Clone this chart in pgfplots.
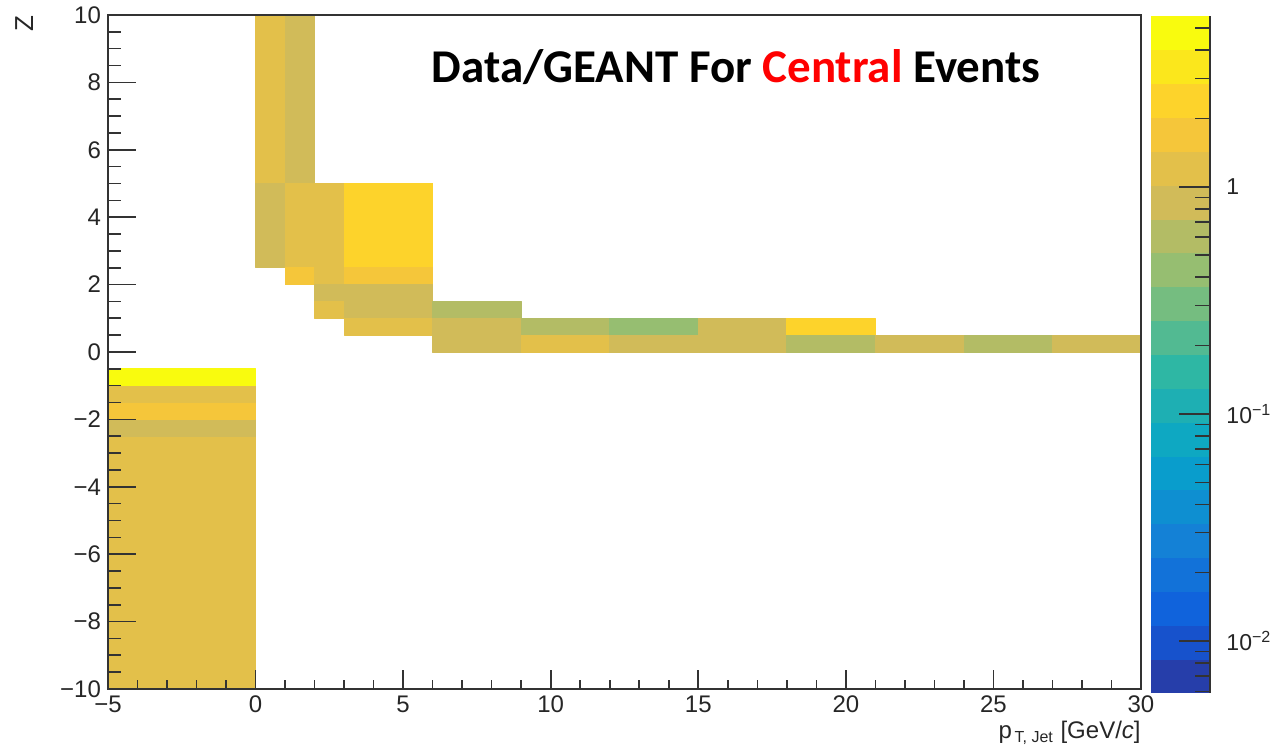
\documentclass[border=0pt]{standalone}
\usepackage{pgfplots}
\pgfplotsset{compat=1.18}
\usepackage{pgfplotstable}
\usepgfplotslibrary{patchplots}
\usepackage{fontspec}
\setmainfont{Liberation Sans}
\newfontfamily\titlefont{Carlito}
\definecolor{framec}{gray}{0.2}

\pgfplotstableread{
x0 x1 y0 y1 z
-5 0 -10 -2.5 1.20
-5 0 -2.5 -2 0.86
-5 0 -2 -1.5 1.70
-5 0 -1.5 -1 1.20
-5 0 -1 -0.5 4.80
0 1 5 10 1.20
0 1 2.5 5 0.86
1 2 5 10 0.87
1 2 2.5 5 1.22
1 2 2 2.5 1.70
2 3 2.5 5 1.20
2 3 2 2.5 1.16
2 3 1.5 2 0.88
2 3 1 1.5 1.22
3 6 2.5 5 2.40
3 6 2 2.5 1.65
3 6 1.5 2 0.90
3 6 1 1.5 0.84
3 6 0.5 1 1.18
6 9 1 1.5 0.61
6 9 0.5 1 0.86
6 9 0 0.5 0.89
9 12 0.5 1 0.62
9 12 0 0.5 1.19
12 15 0.5 1 0.43
12 15 0 0.5 0.87
15 18 0.5 1 0.85
15 18 0 0.5 0.90
18 21 0.5 1 2.30
18 21 0 0.5 0.60
21 24 0 0.5 0.88
24 27 0 0.5 0.63
27 30 0 0.5 0.86
}\bins

\begin{document}
\begin{tikzpicture}
\useasboundingbox (0,0) rectangle (635.5pt,377pt);
\begin{axis}[
  at={(54pt,32.5pt)}, anchor=south west,
  scale only axis, width=516.5pt, height=337pt,
  xmin=-5, xmax=30, ymin=-10, ymax=10,
  xtick={-5,0,...,30}, ytick={-10,-8,...,10},
  xticklabels={−5,0,5,10,15,20,25,30},
  yticklabels={−10,−8,−6,−4,−2,0,2,4,6,8,10},
  minor x tick num=4, minor y tick num=3,
  xtick pos=bottom, ytick pos=left,
  tick align=inside,
  major tick length=14pt, minor tick length=6.5pt,
  x tick style={/pgfplots/major tick length=9.5pt,/pgfplots/minor tick length=4.5pt},
  tick style={line width=0.8pt, color=framec},
  axis line style={line width=1pt, color=framec},
  axis on top,
  tick label style={font=\fontsize{12}{14}\selectfont, color=black!85},
  xlabel={p\textsubscript{\,T, Jet} [GeV/\textit{c}]},
  xlabel style={at={(axis description cs:1,0)}, anchor=north east, inner sep=0pt, yshift=-16pt, font=\fontsize{12}{14}\selectfont, color=black!85},
  ylabel={Z},
  ylabel style={at={(axis description cs:-0.083,1)}, anchor=east, inner sep=0pt, yshift=-1pt, font=\fontsize{13}{14}\selectfont, color=black!85},
  colormap={rootbird}{
    rgb=(0.149,0.244,0.665) rgb=(0.089,0.321,0.801) rgb=(0.063,0.389,0.862)
    rgb=(0.071,0.446,0.851) rgb=(0.078,0.504,0.839) rgb=(0.056,0.559,0.820)
    rgb=(0.034,0.614,0.801) rgb=(0.055,0.657,0.762) rgb=(0.117,0.687,0.702)
    rgb=(0.180,0.718,0.643) rgb=(0.320,0.730,0.572) rgb=(0.460,0.743,0.502)
    rgb=(0.588,0.746,0.443) rgb=(0.703,0.739,0.396) rgb=(0.819,0.733,0.350)
    rgb=(0.889,0.754,0.289) rgb=(0.960,0.776,0.227) rgb=(0.992,0.826,0.168)
    rgb=(0.984,0.904,0.111) rgb=(0.976,0.983,0.054)},
  colormap access=piecewise constant,
  point meta min=-2.229, point meta max=0.753,
  colorbar,
  colorbar style={
    scale only axis, width=29.5pt, height=338.5pt,
    at={(parent axis.north east)}, anchor=north west, xshift=-3.5pt, yshift=-0.5pt,
    axis x line=none, axis y line*=right,
    ytick={-2,-1,0},
    yticklabels={10\textsuperscript{−2},10\textsuperscript{−1},1},
    minor ytick={-2.2218,-2.1549,-2.0969,-2.0458,-1.6990,-1.5229,-1.3979,-1.3010,-1.2218,-1.1549,-1.0969,-1.0458,-0.6990,-0.5229,-0.3979,-0.3010,-0.2218,-0.1549,-0.0969,-0.0458,0.3010,0.4771,0.6021,0.6990},
    ytick pos=right, yticklabel pos=right,
    tick align=inside,
    major tick length=15.5pt, minor tick length=7.5pt,
    tick style={line width=0.8pt, color=framec},
    y axis line style={line width=0.8pt, color=framec},
    yticklabel style={font=\fontsize{11.5}{14}\selectfont, inner sep=0pt, xshift=8pt, color=black!85},
  },
]
\pgfplotstablegetrowsof{\bins}
\pgfmathtruncatemacro{\nbins}{\pgfplotsretval-1}
\pgfplotsforeachungrouped \i in {0,...,\nbins}{%
  \pgfplotstablegetelem{\i}{x0}\of\bins \let\xa\pgfplotsretval
  \pgfplotstablegetelem{\i}{x1}\of\bins \let\xb\pgfplotsretval
  \pgfplotstablegetelem{\i}{y0}\of\bins \let\ya\pgfplotsretval
  \pgfplotstablegetelem{\i}{y1}\of\bins \let\yb\pgfplotsretval
  \pgfplotstablegetelem{\i}{z}\of\bins \let\zz\pgfplotsretval
  \edef\temp{\noexpand\addplot[patch, patch type=rectangle, shader=flat, forget plot, point meta={ln(\zz)/ln(10)}] coordinates {(\xa,\ya) (\xb,\ya) (\xb,\yb) (\xa,\yb)};}%
  \temp
}
\node[font=\titlefont\bfseries\fontsize{23.5}{26}\selectfont, inner sep=0pt] at (rel axis cs:0.608,0.922) {Data/GEANT For \textcolor{red}{Central} Events};
\end{axis}
\end{tikzpicture}
\end{document}
